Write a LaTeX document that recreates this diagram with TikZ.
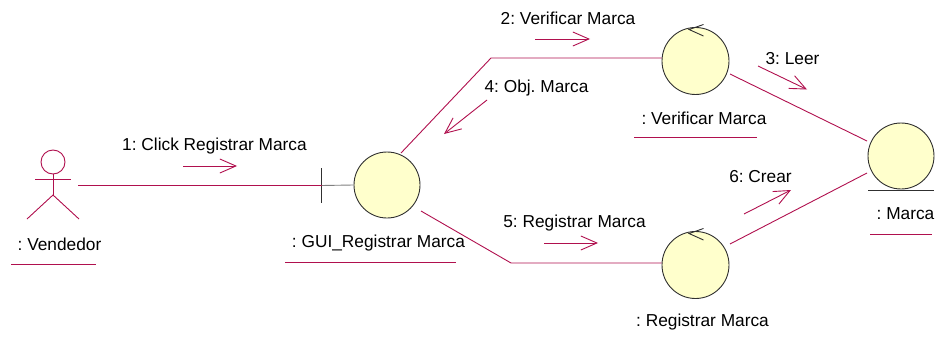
\documentclass[tikz,border=0pt]{standalone}
\usepackage{fontspec}
\setmainfont{Liberation Sans}
\usetikzlibrary{arrows.meta}
\definecolor{umlred}{HTML}{B0104E}
\definecolor{umlfill}{HTML}{FFFFCC}
\definecolor{umldark}{HTML}{303030}
\tikzset{
  x=1pt,y=-1pt,
  obj/.style={circle,draw=umldark,fill=umlfill,line width=0.9pt,inner sep=0pt,minimum size=#1},
  lbl/.style={inner sep=0pt,text=black,font=\fontsize{17.3}{19}\selectfont\frenchspacing,anchor=center},
  link/.style={draw=umlred,line width=0.9pt},
  msg/.style={draw=umlred,line width=0.9pt,-{Straight Barb[length=16pt,width=14pt,line width=0.9pt]}},
  dark/.style={draw=umldark,line width=0.9pt},
}
\begin{document}
\begin{tikzpicture}
\useasboundingbox (0,0) rectangle (937,337);
% objects
\node[obj=66pt] (gui) at (387,185) {};
\node[obj=67pt] (ver) at (695.5,61) {};
\node[obj=67pt] (reg) at (695.5,265) {};
\node[obj=66pt] (mar) at (901,156) {};
% actor
\node[circle,draw=umlred,line width=0.9pt,minimum size=24pt,inner sep=0pt] (head) at (53,162) {};
\coordinate (hip) at (53,195);
\coordinate (armL) at (35,179);
\coordinate (armR) at (71,179);
\coordinate (legL) at (27,219);
\coordinate (legR) at (79,219);
\draw[link] (head.south) -- (hip);
\draw[link] (armL) -- (armR);
\draw[link] (legL) -- (hip) -- (legR);
% boundary
\coordinate (barT) at (321.5,168);
\coordinate (barB) at (321.5,203);
\coordinate (barM) at (321.5,185.5);
\coordinate (actorR) at (78,185.5);
\draw[dark] (barT) -- (barB);
\draw[draw=gray,line width=0.9pt] (barM) -- (gui.west);
\draw[link] (actorR) -- (barM);
% control arrows
\coordinate (vc1) at (703.5,24.5);
\coordinate (vc2) at (689,29.5);
\coordinate (vc3) at (703.5,36);
\draw[dark] (vc1) -- (vc2) -- (vc3);
\coordinate (rc1) at (703.5,228.5);
\coordinate (rc2) at (689,233.5);
\coordinate (rc3) at (703.5,240);
\draw[dark] (rc1) -- (rc2) -- (rc3);
% entity line
\coordinate (mL) at (868,190);
\coordinate (mR) at (934,190);
\draw[dark] (mL) -- (mR);
% links
\coordinate (b1) at (491,58);
\coordinate (b2) at (511,263);
\coordinate (guiA) at (401,153);
\coordinate (guiB) at (421,211);
\coordinate (verW) at (661.6,58);
\coordinate (regW) at (661.6,263);
\coordinate (verE) at (730,74);
\coordinate (regE) at (730,244);
\coordinate (marA) at (867,141);
\coordinate (marB) at (867,173);
\draw[link] (guiA) -- (b1) -- (verW);
\draw[link] (guiB) -- (b2) -- (regW);
\draw[link] (verE) -- (marA);
\draw[link] (regE) -- (marB);
% messages
\coordinate (m1a) at (183,166); \coordinate (m1b) at (237,166);
\coordinate (m2a) at (535,39); \coordinate (m2b) at (590,39);
\coordinate (m3a) at (758,66); \coordinate (m3b) at (807,89.5);
\coordinate (m4a) at (487,100); \coordinate (m4b) at (444,134);
\coordinate (m5a) at (544,243); \coordinate (m5b) at (598,243);
\coordinate (m6a) at (744,214); \coordinate (m6b) at (791,190);
\draw[msg] (m1a) -- (m1b);
\draw[msg] (m2a) -- (m2b);
\draw[msg] (m3a) -- (m3b);
\draw[msg] (m4a) -- (m4b);
\draw[msg] (m5a) -- (m5b);
\draw[msg] (m6a) -- (m6b);
% message labels
\node[lbl] (t1) at (214.5,146) {1: Click Registrar Marca};
\node[lbl] (t2) at (568,18) {2: Verificar Marca};
\node[lbl] (t3) at (792.5,59) {3: Leer};
\node[lbl] (t4) at (536.5,88) {4: Obj. Marca};
\node[lbl] (t5) at (574.5,223) {5: Registrar Marca};
\node[lbl] (t6) at (760.5,177) {6: Crear};
% object labels
\node[lbl] (n1) at (59.5,244.5) {: Vendedor};
\node[lbl] (n2) at (378.5,243) {: GUI\_Registrar Marca};
\node[lbl] (n3) at (704,118) {: Verificar Marca};
\node[lbl] (n4) at (702.5,322) {: Registrar Marca};
\node[lbl] (n5) at (905.5,214) {: Marca};
% underlines
\coordinate (u1a) at (11,264); \coordinate (u1b) at (96,264);
\coordinate (u2a) at (285,262); \coordinate (u2b) at (456,262);
\coordinate (u3a) at (634,137); \coordinate (u3b) at (757,137);
\coordinate (u5a) at (870,234); \coordinate (u5b) at (932,234);
\draw[link] (u1a) -- (u1b);
\draw[link] (u2a) -- (u2b);
\draw[link] (u3a) -- (u3b);
\draw[link] (u5a) -- (u5b);
\end{tikzpicture}
\end{document}
